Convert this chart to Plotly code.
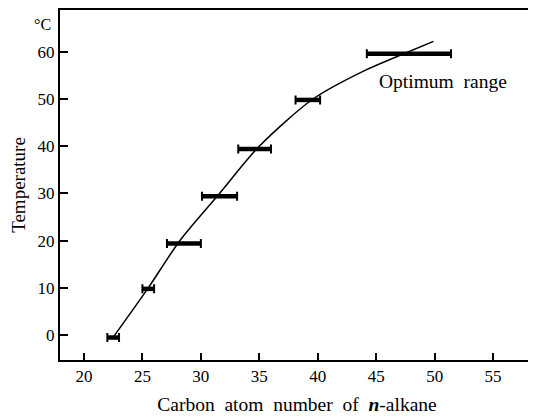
import plotly.graph_objects as go

# Optimum carbon-number ranges at each temperature
bar_temp = [-0.5, 9.8, 19.4, 29.4, 39.4, 49.8, 59.6]
bar_lo = [22.0, 25.0, 27.1, 30.1, 33.2, 38.1, 44.2]
bar_hi = [23.0, 26.0, 30.0, 33.1, 36.0, 40.2, 51.4]

# Fitted curve through the ranges
curve_x = [22.4, 25.5, 28.2, 31.6, 35.0, 39.6, 44.0, 47.0, 49.9]
curve_y = [-0.8, 10.0, 20.0, 30.0, 40.0, 50.0, 56.0, 59.2, 62.2]

x_ticks = [20, 25, 30, 35, 40, 45, 50, 55]
y_ticks = [0, 10, 20, 30, 40, 50, 60]

FONT = "Liberation Serif, Times New Roman, serif"
SP = "\u2002"

fig = go.Figure()

fig.add_trace(go.Scatter(
    x=curve_x, y=curve_y, mode="lines",
    line=dict(color="black", width=1.5, shape="spline", smoothing=0.8),
    hoverinfo="skip", showlegend=False,
))

# thick horizontal bars
bx, by = [], []
for lo, hi, t in zip(bar_lo, bar_hi, bar_temp):
    bx += [lo, hi, None]
    by += [t, t, None]
fig.add_trace(go.Scatter(
    x=bx, y=by, mode="lines",
    line=dict(color="black", width=4.5),
    hoverinfo="skip", showlegend=False,
))

# end caps
centers = [(lo + hi) / 2 for lo, hi in zip(bar_lo, bar_hi)]
halfw = [(hi - lo) / 2 for lo, hi in zip(bar_lo, bar_hi)]
fig.add_trace(go.Scatter(
    x=centers, y=bar_temp, mode="markers",
    marker=dict(size=1, color="rgba(0,0,0,0)"),
    error_x=dict(type="data", array=halfw, symmetric=True,
                 color="black", thickness=2, width=4.5),
    hoverinfo="skip", showlegend=False,
))

fig.add_annotation(x=45.1, y=53.6, xref="x", yref="y", text="Optimum" + SP + "range",
                   showarrow=False, xanchor="left", yanchor="middle",
                   font=dict(family=FONT, size=19.5, color="black"))
fig.add_annotation(x=-0.036, y=0.96, xref="paper", yref="paper", text="°C",
                   showarrow=False, xanchor="center", yanchor="middle",
                   font=dict(family=FONT, size=16, color="black"))

fig.update_xaxes(
    range=[17.95, 58.5], tickvals=x_ticks, ticks="inside", ticklen=7,
    tickwidth=1.5, tickcolor="black", showline=True, linecolor="black",
    linewidth=2, mirror=True, showgrid=False, zeroline=False,
    tickfont=dict(family=FONT, size=17, color="black"),
    title=dict(text=SP.join(["Carbon", "atom", "number", "of", "<b><i>n</i></b>-alkane"]),
               font=dict(family=FONT, size=19.5, color="black"), standoff=12),
)
fig.update_yaxes(
    range=[-5.26, 68.84], tickvals=y_ticks, ticks="inside", ticklen=8,
    tickwidth=1.5, tickcolor="black", showline=True, linecolor="black",
    linewidth=2, mirror=True, showgrid=False, zeroline=False,
    tickfont=dict(family=FONT, size=17, color="black"),
    title=dict(text="Temperature", font=dict(family=FONT, size=19, color="black"),
               standoff=8),
)

# the page keeps its default 8px body margin, so the figure is sized to fit
fig.update_layout(
    width=528, height=411,
    margin=dict(l=52, r=2, t=0, b=59),
    paper_bgcolor="white", plot_bgcolor="white",
)

fig.write_html("out.html", config={"displayModeBar": False})
